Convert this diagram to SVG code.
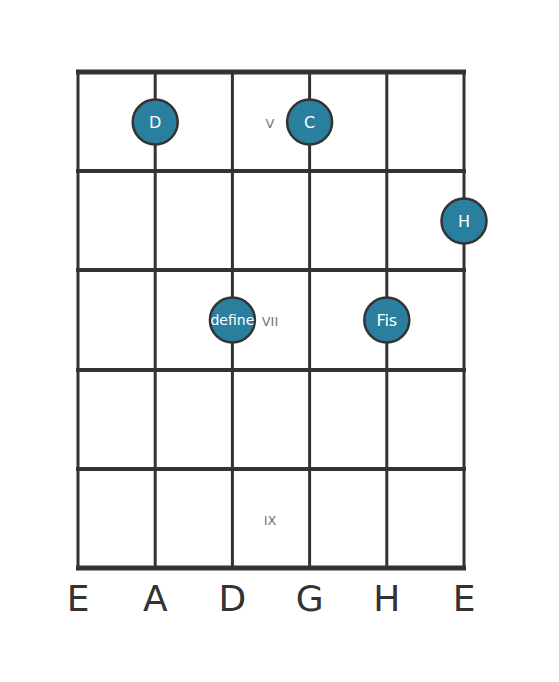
<svg xmlns="http://www.w3.org/2000/svg" width="559" height="682" viewBox="0 0 559 682">
<style>
.str{stroke:#333;stroke-width:3;}
.fret{stroke:#333;stroke-width:4;}
.nut{stroke:#333;stroke-width:5;}
.note circle{fill:#2a7f9e;stroke:#333;stroke-width:2.5;}
.note text{fill:#fff;font-family:"DejaVu Sans",sans-serif;font-size:16px;text-anchor:middle;dominant-baseline:central;}
.fl{fill:#777;font-family:"DejaVu Sans",sans-serif;font-size:13px;text-anchor:middle;dominant-baseline:central;}
.sl{fill:#333;font-family:"DejaVu Sans",sans-serif;font-size:36px;text-anchor:middle;}
</style>
<rect width="559" height="682" fill="#fff"/>
<g id="connectors">
<line class="str" x1="78" y1="72" x2="78" y2="568"/>
<line class="str" x1="155.2" y1="72" x2="155.2" y2="568"/>
<line class="str" x1="232.4" y1="72" x2="232.4" y2="568"/>
<line class="str" x1="309.6" y1="72" x2="309.6" y2="568"/>
<line class="str" x1="386.8" y1="72" x2="386.8" y2="568"/>
<line class="str" x1="464" y1="72" x2="464" y2="568"/>
<line class="nut" x1="76" y1="72" x2="466" y2="72"/>
<line class="fret" x1="76" y1="171" x2="466" y2="171"/>
<line class="fret" x1="76" y1="270" x2="466" y2="270"/>
<line class="fret" x1="76" y1="370" x2="466" y2="370"/>
<line class="fret" x1="76" y1="469" x2="466" y2="469"/>
<line class="nut" x1="76" y1="568" x2="466" y2="568"/>
</g>
<g id="fret-labels">
<text class="fl" x="270" y="123">V</text>
<text class="fl" x="270" y="321">VII</text>
<text class="fl" x="270" y="520">IX</text>
</g>
<g id="note-D" class="note"><circle cx="155.2" cy="122" r="22.5"/><text x="155.2" y="122">D</text></g>
<g id="note-C" class="note"><circle cx="309.6" cy="122" r="22.5"/><text x="309.6" y="122">C</text></g>
<g id="note-H" class="note"><circle cx="464" cy="221" r="22.5"/><text x="464" y="221">H</text></g>
<g id="note-define" class="note"><circle cx="232.4" cy="320" r="22.5"/><text x="232.4" y="320" style="font-size:14px">define</text></g>
<g id="note-Fis" class="note"><circle cx="386.8" cy="320" r="22.5"/><text x="386.8" y="320">Fis</text></g>
<g id="string-labels">
<text class="sl" x="78" y="611">E</text>
<text class="sl" x="155.2" y="611">A</text>
<text class="sl" x="232.4" y="611">D</text>
<text class="sl" x="309.6" y="611">G</text>
<text class="sl" x="386.8" y="611">H</text>
<text class="sl" x="464" y="611">E</text>
</g>
</svg>
